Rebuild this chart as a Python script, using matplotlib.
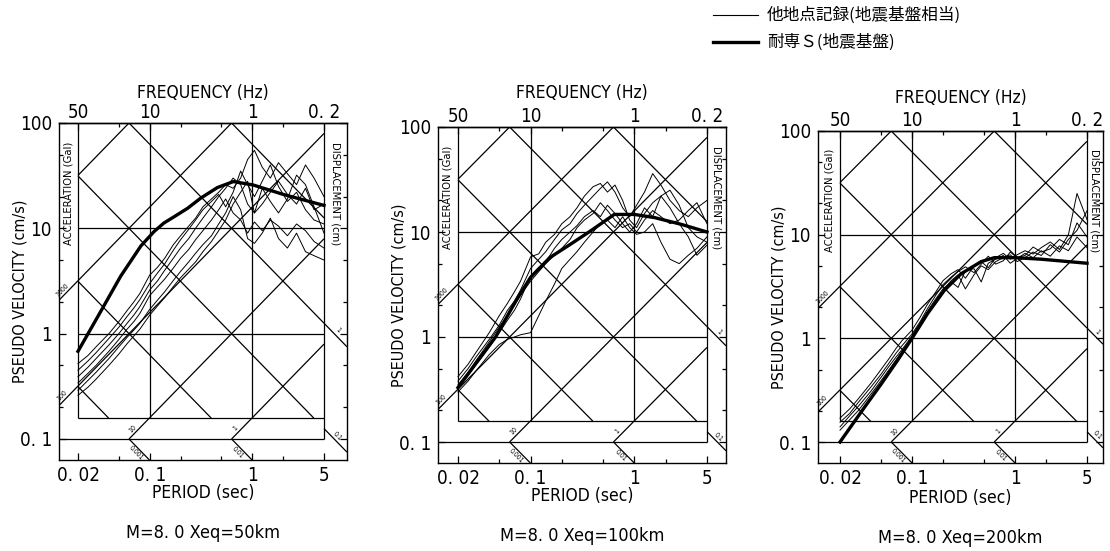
import math
import matplotlib
matplotlib.use('Agg')
import matplotlib.pyplot as plt
from matplotlib.lines import Line2D
import matplotlib.ticker as mticker

plt.rcParams['font.family'] = ['DejaVu Sans', 'Noto Sans CJK JP']
plt.rcParams['font.stretch'] = 'condensed'

# ---------------- data ----------------
periods = [0.02, 0.025, 0.03, 0.04, 0.05, 0.06, 0.07, 0.08, 0.1, 0.12, 0.14, 0.17, 0.2, 0.24,
           0.28, 0.33, 0.4, 0.47, 0.55, 0.65, 0.77, 0.9, 1.05, 1.25, 1.5, 1.8, 2.2, 2.7, 3.3, 4.0, 5.0]

# Xeq = 50 km : other-site records
rec50_a = [0.52, 0.62, 0.75, 1.0, 1.3, 1.65, 2.0, 2.4, 3.6, 4.3, 5.2, 7.0, 8.5, 10.5, 12.5, 16, 19, 22, 26, 24, 30, 45, 55, 38, 30, 42, 33, 26, 40, 30, 20]
rec50_b = [0.45, 0.55, 0.66, 0.9, 1.15, 1.45, 1.75, 2.1, 3.0, 3.8, 4.6, 6.2, 7.8, 9.8, 12, 15, 18, 21, 16, 22, 35, 26, 20, 28, 40, 25, 18, 22, 15, 12, 11]
rec50_c = [0.39, 0.48, 0.58, 0.78, 1.0, 1.25, 1.5, 1.8, 2.6, 3.2, 4.0, 5.2, 6.5, 8.0, 10, 12.5, 16, 20, 24, 30, 26, 17, 14, 17, 22, 28, 21, 17, 24, 15, 17]
rec50_d = [0.34, 0.42, 0.5, 0.68, 0.88, 1.1, 1.3, 1.55, 2.3, 2.8, 3.3, 4.2, 5.2, 6.3, 7.8, 9.5, 12, 15, 19, 14, 12, 9, 11.5, 9.5, 12, 10.5, 8.5, 11, 9.5, 7.5, 6.5]
rec50_e = [0.29, 0.36, 0.43, 0.58, 0.75, 0.92, 1.08, 1.25, 1.7, 2.1, 2.5, 3.2, 3.9, 4.8, 5.8, 7.0, 8.5, 11, 14, 20, 15, 8, 7.2, 9, 12.5, 8, 6.5, 9, 6, 5.5, 5]
rec50_f = [0.26, 0.31, 0.37, 0.5, 0.64, 0.8, 0.95, 1.1, 1.5, 1.85, 2.2, 2.8, 3.4, 4.1, 4.8, 6.0, 7.5, 9.5, 12, 17, 22, 28, 14, 24, 18, 14, 19, 32, 26, 16, 9]

# Xeq = 100 km
rec100_a = [0.42, 0.55, 0.72, 1.1, 1.6, 2.1, 2.7, 3.4, 5.8, 6.2, 8.0, 9.5, 12, 14, 17, 22, 27, 29, 24, 28, 20, 13, 11, 15, 19, 22, 17, 12, 9, 6, 7.5]
rec100_b = [0.38, 0.5, 0.65, 0.95, 1.3, 1.8, 2.2, 2.8, 4.5, 5.5, 6.5, 8.5, 10.5, 12, 15, 18, 22, 26, 30, 24, 17, 14, 18, 24, 36, 28, 20, 16, 14, 17, 20]
rec100_c = [0.33, 0.43, 0.55, 0.8, 1.1, 1.45, 1.8, 2.3, 3.8, 4.6, 5.2, 7.0, 8.5, 10, 11.5, 14, 16, 14, 18, 15, 12, 10, 12, 17, 14, 22, 25, 18, 11, 9, 8]
rec100_d = [0.3, 0.38, 0.48, 0.68, 0.85, 0.95, 1.0, 1.05, 1.1, 1.6, 2.2, 3.2, 4.5, 5.5, 6.5, 8.0, 10, 12, 13, 11, 14, 11, 9.5, 10, 12, 8, 5.5, 5, 6, 7, 9]
rec100_e = [0.35, 0.46, 0.6, 0.9, 1.25, 1.6, 2.0, 2.5, 3.4, 4.2, 5.0, 6.0, 7.0, 8.5, 11, 13, 15, 19, 16, 13, 11, 12, 10, 13, 16, 14, 12, 13, 16, 19, 12]

# Xeq = 200 km
rec200_a = [0.17, 0.21, 0.26, 0.37, 0.5, 0.64, 0.8, 0.95, 1.2, 1.6, 2.1, 2.8, 3.6, 4.2, 4.6, 3.8, 5.0, 5.5, 4.8, 6.0, 6.6, 5.8, 6.4, 7.0, 6.5, 7.5, 8.5, 7.2, 10, 25, 14]
rec200_b = [0.155, 0.19, 0.24, 0.34, 0.45, 0.58, 0.72, 0.85, 1.1, 1.45, 1.9, 2.6, 3.3, 3.9, 4.4, 4.9, 4.3, 5.2, 6.2, 5.2, 5.6, 6.8, 6.0, 6.3, 7.6, 6.8, 7.3, 9.0, 8.0, 13, 9.5]
rec200_c = [0.14, 0.18, 0.22, 0.31, 0.42, 0.54, 0.66, 0.78, 1.05, 1.4, 1.8, 2.4, 3.0, 3.5, 3.1, 4.5, 4.7, 3.5, 5.3, 5.8, 6.3, 5.3, 5.9, 6.6, 6.0, 7.0, 6.2, 7.8, 7.0, 9.5, 7.5]
rec200_d = [0.13, 0.165, 0.2, 0.29, 0.39, 0.5, 0.62, 0.75, 1.0, 1.3, 1.7, 2.3, 2.9, 3.6, 4.1, 3.0, 4.1, 5.0, 4.6, 5.5, 6.0, 6.4, 5.5, 6.0, 6.8, 6.3, 8.0, 6.8, 9.0, 11, 17]

# Taisen-S (seismic bedrock) spectra
taisen50_T = [0.02, 0.033, 0.052, 0.082, 0.11, 0.137, 0.18, 0.234, 0.313, 0.457, 0.654, 1.02, 2.0, 5.0]
taisen50_V = [0.68, 1.6, 3.5, 6.8, 9.3, 11.2, 13.2, 15.5, 19.3, 24.4, 27.8, 25.8, 21, 16.5]
taisen100_T = [0.02, 0.046, 0.072, 0.1, 0.153, 0.24, 0.376, 0.64, 1.0, 1.57, 2.85, 5.0]
taisen100_V = [0.33, 1.0, 2.2, 3.7, 5.7, 7.6, 10.2, 14.7, 14.7, 13.7, 11.8, 10.0]
taisen200_T = [0.02, 0.035, 0.05, 0.073, 0.1, 0.142, 0.206, 0.3, 0.47, 0.63, 1.0, 1.79, 5.0]
taisen200_V = [0.1, 0.22, 0.36, 0.62, 1.0, 1.74, 2.9, 4.2, 5.5, 6.0, 6.0, 5.8, 5.3]

captions = ['M=8. 0 Xeq=50km', 'M=8. 0 Xeq=100km', 'M=8. 0 Xeq=200km']
legend_labels = ['他地点記録(地震基盤相当)', '耐専Ｓ(地震基盤)']

accel_levels = [1, 10, 100, 1000, 10000, 100000]       # Gal
disp_levels = [0.001, 0.01, 0.1, 1, 10, 100]          # cm
period_ticks = [0.02, 0.1, 1, 5]
period_ticklabels = ['0. 02', '0. 1', '1', '5']
period_minor = [0.05, 0.2, 0.5, 2]
freq_ticks = [50, 10, 1, 0.2]
freq_ticklabels = ['50', '10', '1', '0. 2']
freq_minor = [20, 5, 2, 0.5]
vel_ticks = [0.1, 1, 10, 100]
vel_ticklabels = ['0. 1', '1', '10', '100']
vel_minor = [0.2, 0.5, 2, 5, 20, 50]

# ---------------- layout (pixels) ----------------
W, H = 1110, 551
T_LO, T_HI = 0.02, 5.0
V_HI, V_LO, V_BASE = 100.0, 0.158, 0.1
TWO_PI = 2 * math.pi

panels = [
    dict(box=(59, 123, 347, 460), px_tlo=78, px_thi=324, px_v100=123, px_v01=439,
         thin=[rec50_a, rec50_b, rec50_c, rec50_d, rec50_e, rec50_f], T=taisen50_T, V=taisen50_V,
         freq_y=93, per_y=493, cap_y=533),
    dict(box=(438, 127, 726, 463), px_tlo=458, px_thi=707, px_v100=127, px_v01=442,
         thin=[rec100_a, rec100_b, rec100_c, rec100_d, rec100_e], T=taisen100_T, V=taisen100_V,
         freq_y=93, per_y=496, cap_y=536),
    dict(box=(818, 131, 1103, 463), px_tlo=840, px_thi=1087, px_v100=131, px_v01=442,
         thin=[rec200_a, rec200_b, rec200_c, rec200_d], T=taisen200_T, V=taisen200_V,
         freq_y=98, per_y=498, cap_y=538),
]

fig = plt.figure(figsize=(W / 100, H / 100), dpi=100)
fig.patch.set_facecolor('white')

LW_GRID = 0.9
TXT = 12.5
TICK = 13.5


def seg(ax, xs, ys, lw=LW_GRID):
    ax.plot(xs, ys, color='black', lw=lw, solid_capstyle='butt', zorder=2)


def diag_label(ax, p0, p1, frac, text, off):
    d0 = ax.transData.transform(p0)
    d1 = ax.transData.transform(p1)
    ang = math.degrees(math.atan2(d1[1] - d0[1], d1[0] - d0[0]))
    if ang > 90:
        ang -= 180
    if ang < -90:
        ang += 180
    lx = 10 ** (math.log10(p0[0]) + frac * (math.log10(p1[0]) - math.log10(p0[0])))
    ly = 10 ** (math.log10(p0[1]) + frac * (math.log10(p1[1]) - math.log10(p0[1])))
    r = math.radians(ang)
    ax.annotate(text, (lx, ly), xytext=(-math.sin(r) * off, math.cos(r) * off),
                textcoords='offset points', rotation=ang, rotation_mode='anchor',
                ha='center', va='center', fontsize=5, zorder=3)


for i, p in enumerate(panels):
    l, t, r, b = p['box']
    xdec = (p['px_thi'] - p['px_tlo']) / (math.log10(T_HI) - math.log10(T_LO))
    xmin = 10 ** (math.log10(T_LO) - (p['px_tlo'] - l) / xdec)
    xmax = 10 ** (math.log10(T_HI) + (r - p['px_thi']) / xdec)
    ydec = (p['px_v01'] - p['px_v100']) / 3.0
    ymax = 10 ** (2 + (p['px_v100'] - t) / ydec)
    ymin = 10 ** (-1 - (b - p['px_v01']) / ydec)

    ax = fig.add_axes([l / W, 1 - b / H, (r - l) / W, (b - t) / H])
    ax.set_xscale('log')
    ax.set_yscale('log')
    ax.set_xlim(xmin, xmax)
    ax.set_ylim(ymin, ymax)
    for s in ax.spines.values():
        s.set_linewidth(1.0)

    # frame / rectangular grid
    seg(ax, [T_LO, T_LO], [V_LO, V_HI])
    seg(ax, [T_HI, T_HI], [V_BASE, V_HI])
    for tv in [0.1, 1]:
        seg(ax, [tv, tv], [V_LO, V_HI])
    for vv in [1, 10]:
        seg(ax, [T_LO, T_HI], [vv, vv])
    seg(ax, [T_LO, T_HI], [V_LO, V_LO])
    seg(ax, [xmin, T_HI], [V_BASE, V_BASE])

    # acceleration lines  V = A T / 2pi
    for A in accel_levels:
        t0 = max(T_LO, V_LO * TWO_PI / A)
        t1 = min(T_HI, V_HI * TWO_PI / A)
        if t0 < t1:
            seg(ax, [t0, t1], [A * t0 / TWO_PI, A * t1 / TWO_PI])
    # displacement lines V = 2pi D / T
    for D in disp_levels:
        t0 = max(T_LO, TWO_PI * D / V_HI)
        t1 = min(T_HI, TWO_PI * D / V_LO)
        if t0 < t1:
            seg(ax, [t0, t1], [TWO_PI * D / t0, TWO_PI * D / t1])

    # extensions with labels
    for A, lab in [(100, '100'), (1000, '1000')]:
        p0 = (xmin, A * xmin / TWO_PI)
        p1 = (T_LO, A * T_LO / TWO_PI)
        seg(ax, [p0[0], p1[0]], [p0[1], p1[1]])
        diag_label(ax, p0, p1, 0.35, lab, 3.5)
    for A, lab in [(10, '10'), (1, '1')]:
        p0 = (V_BASE * TWO_PI / A, V_BASE)
        p1 = (V_LO * TWO_PI / A, V_LO)
        seg(ax, [p0[0], p1[0]], [p0[1], p1[1]])
        diag_label(ax, p0, p1, 0.35, lab, 3.5)
    for D, lab in [(0.001, '0.001'), (0.01, '0.01')]:
        p0 = (TWO_PI * D / V_BASE, V_BASE)
        p1 = (TWO_PI * D / ymin, ymin)
        seg(ax, [p0[0], p1[0]], [p0[1], p1[1]])
        diag_label(ax, p0, p1, 0.5, lab, -3.5)
    for D, lab in [(1, '1'), (0.1, '0.1')]:
        p0 = (T_HI, TWO_PI * D / T_HI)
        p1 = (xmax, TWO_PI * D / xmax)
        seg(ax, [p0[0], p1[0]], [p0[1], p1[1]])
        diag_label(ax, p0, p1, 0.45, lab, 3.5)

    # strip captions
    ax.text(10 ** ((math.log10(xmin) + math.log10(T_LO)) / 2), 10 ** 1.33,
            'ACCELERATION (Gal)', rotation=90, ha='center', va='center', fontsize=8)
    ax.text(10 ** ((math.log10(xmax) + math.log10(T_HI)) / 2), 10 ** 1.33,
            'DISPLACEMENT (cm)', rotation=270, ha='center', va='center', fontsize=8)

    # spectra
    for rec in p['thin']:
        ax.plot(periods, rec, color='black', lw=0.7, zorder=4)
    ax.plot(p['T'], p['V'], color='black', lw=2.4, zorder=5, solid_joinstyle='round')

    # ticks
    ax.xaxis.set_major_locator(mticker.FixedLocator(period_ticks))
    ax.xaxis.set_major_formatter(mticker.FixedFormatter(period_ticklabels))
    ax.xaxis.set_minor_locator(mticker.FixedLocator(period_minor))
    ax.xaxis.set_minor_formatter(mticker.NullFormatter())
    ax.yaxis.set_major_locator(mticker.FixedLocator(vel_ticks))
    ax.yaxis.set_major_formatter(mticker.FixedFormatter(vel_ticklabels))
    ax.yaxis.set_minor_locator(mticker.FixedLocator(vel_minor))
    ax.yaxis.set_minor_formatter(mticker.NullFormatter())
    ax.tick_params(which='both', direction='in', top=False, right=True, width=0.9)
    ax.tick_params(which='major', length=5, labelsize=TICK)
    ax.tick_params(which='minor', length=3)
    ax.tick_params(axis='x', which='major', pad=4)
    ax.tick_params(axis='y', which='major', pad=5)

    sec = ax.secondary_xaxis('top', functions=(lambda x: 1.0 / x, lambda x: 1.0 / x))
    sec.xaxis.set_major_locator(mticker.FixedLocator(freq_ticks))
    sec.xaxis.set_major_formatter(mticker.FixedFormatter(freq_ticklabels))
    sec.xaxis.set_minor_locator(mticker.FixedLocator(freq_minor))
    sec.xaxis.set_minor_formatter(mticker.NullFormatter())
    sec.tick_params(which='both', direction='in', width=0.9)
    sec.tick_params(which='major', length=5, labelsize=TICK, pad=1)
    sec.tick_params(which='minor', length=3)
    sec.spines['top'].set_linewidth(1.0)

    cx = (l + r) / 2 / W
    fig.text(cx, 1 - p['freq_y'] / H, 'FREQUENCY (Hz)', ha='center', va='center', fontsize=TXT)
    fig.text(cx, 1 - p['per_y'] / H, 'PERIOD (sec)', ha='center', va='center', fontsize=TXT)
    fig.text(cx, 1 - p['cap_y'] / H, captions[i], ha='center', va='center', fontsize=13)
    fig.text((l - 39) / W, 1 - ((t + b) / 2) / H, 'PSEUDO VELOCITY (cm/s)', rotation=90,
             ha='center', va='center', fontsize=11.5)

# legend
fig.add_artist(Line2D([713 / W, 758 / W], [1 - 15 / H, 1 - 15 / H], color='black', lw=0.8))
fig.add_artist(Line2D([713 / W, 758 / W], [1 - 42 / H, 1 - 42 / H], color='black', lw=2.4))
fig.text(767 / W, 1 - 15 / H, legend_labels[0], ha='left', va='center', fontsize=12,
         family=['Noto Sans CJK JP', 'DejaVu Sans'], stretch='normal')
fig.text(767 / W, 1 - 42 / H, legend_labels[1], ha='left', va='center', fontsize=12,
         family=['Noto Sans CJK JP', 'DejaVu Sans'], stretch='normal')

fig.savefig('out.png', dpi=100, facecolor='white')
